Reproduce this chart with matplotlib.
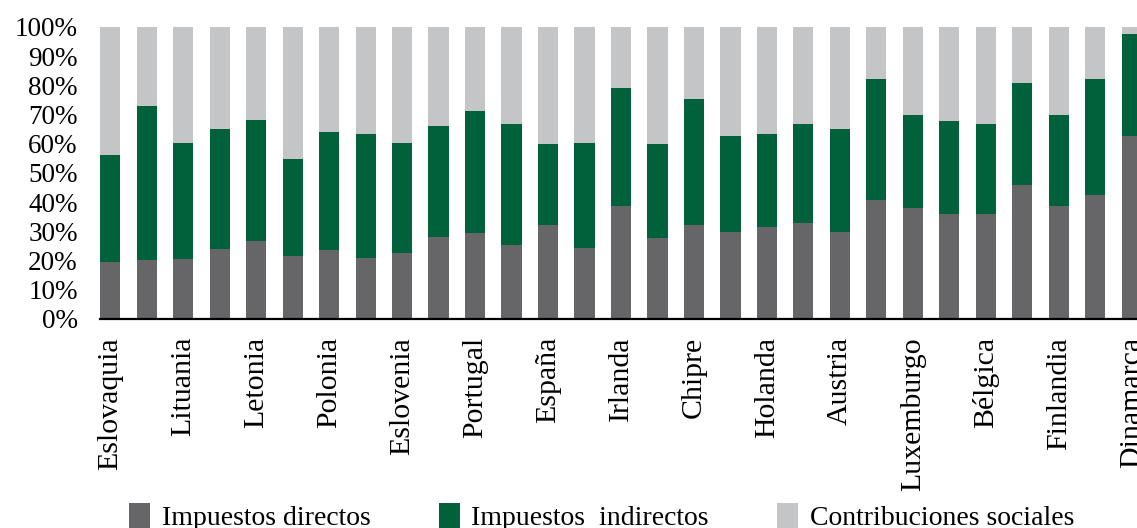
import matplotlib.pyplot as plt
import numpy as np

# Estructura de la recaudacion (% del total)
paises = ["Eslovaquia", "Lituania", "Letonia", "Polonia", "Eslovenia",
          "Portugal", "España", "Irlanda", "Chipre", "Holanda", "Austria",
          "Luxemburgo", "Bélgica", "Finlandia", "Dinamarca"]

directos = [19.5, 20.2, 20.5, 24.1, 26.7, 21.6, 23.6, 20.9, 22.6, 27.9,
            29.5, 25.3, 32.2, 24.3, 38.7, 27.7, 32.2, 29.8, 31.5, 32.9,
            29.8, 40.8, 38.0, 36.0, 36.0, 45.9, 38.7, 42.5, 62.7]
# top of the green segment (directos + indirectos)
acumulado = [56.0, 72.9, 60.4, 65.1, 68.0, 54.8, 64.0, 63.4, 60.4, 65.9,
             71.1, 66.8, 60.0, 60.3, 79.1, 59.9, 75.3, 62.7, 63.4, 66.8,
             65.1, 82.2, 69.9, 67.8, 66.8, 80.7, 69.9, 82.2, 97.6]

directos = np.array(directos) / 100
indirectos = np.array(acumulado) / 100 - directos
sociales = 1 - directos - indirectos

plt.rcParams['font.family'] = ['Liberation Serif', 'DejaVu Serif']

fig = plt.figure(figsize=(11.37, 5.28), dpi=100)
ax = fig.add_axes([0.088, 0.396, 0.912, 0.553])

x = np.arange(len(directos))
w = 0.55
ax.bar(x, directos, w, color='#666668', label='Impuestos directos')
ax.bar(x, indirectos, w, bottom=directos, color='#00613A',
       label='Impuestos  indirectos')
ax.bar(x, sociales, w, bottom=directos + indirectos, color='#C4C5C7',
       label='Contribuciones sociales')

ax.set_xlim(-0.275, 28.14)
ax.set_ylim(0, 1)
ax.set_yticks(np.arange(0, 1.01, 0.1))
ax.set_yticklabels([f"{int(round(v * 100))}%" for v in np.arange(0, 1.01, 0.1)])
ax.set_xticks(x[::2])
ax.set_xticklabels(paises, rotation=90, va='top', ha='center')

ax.tick_params(axis='y', length=0, pad=16, labelsize=19.5)
ax.tick_params(axis='x', length=0, pad=13, labelsize=21.5)

for s in ['top', 'right', 'left']:
    ax.spines[s].set_visible(False)
ax.spines['bottom'].set_linewidth(1.6)
ax.spines['bottom'].set_color('black')

fig.legend(loc='center', bbox_to_anchor=(0.529, 0.02), ncol=3, frameon=False,
           fontsize=20, handlelength=0.76, handleheight=1.0,
           handletextpad=0.42, columnspacing=2.45)

plt.savefig('out.png', dpi=100)
